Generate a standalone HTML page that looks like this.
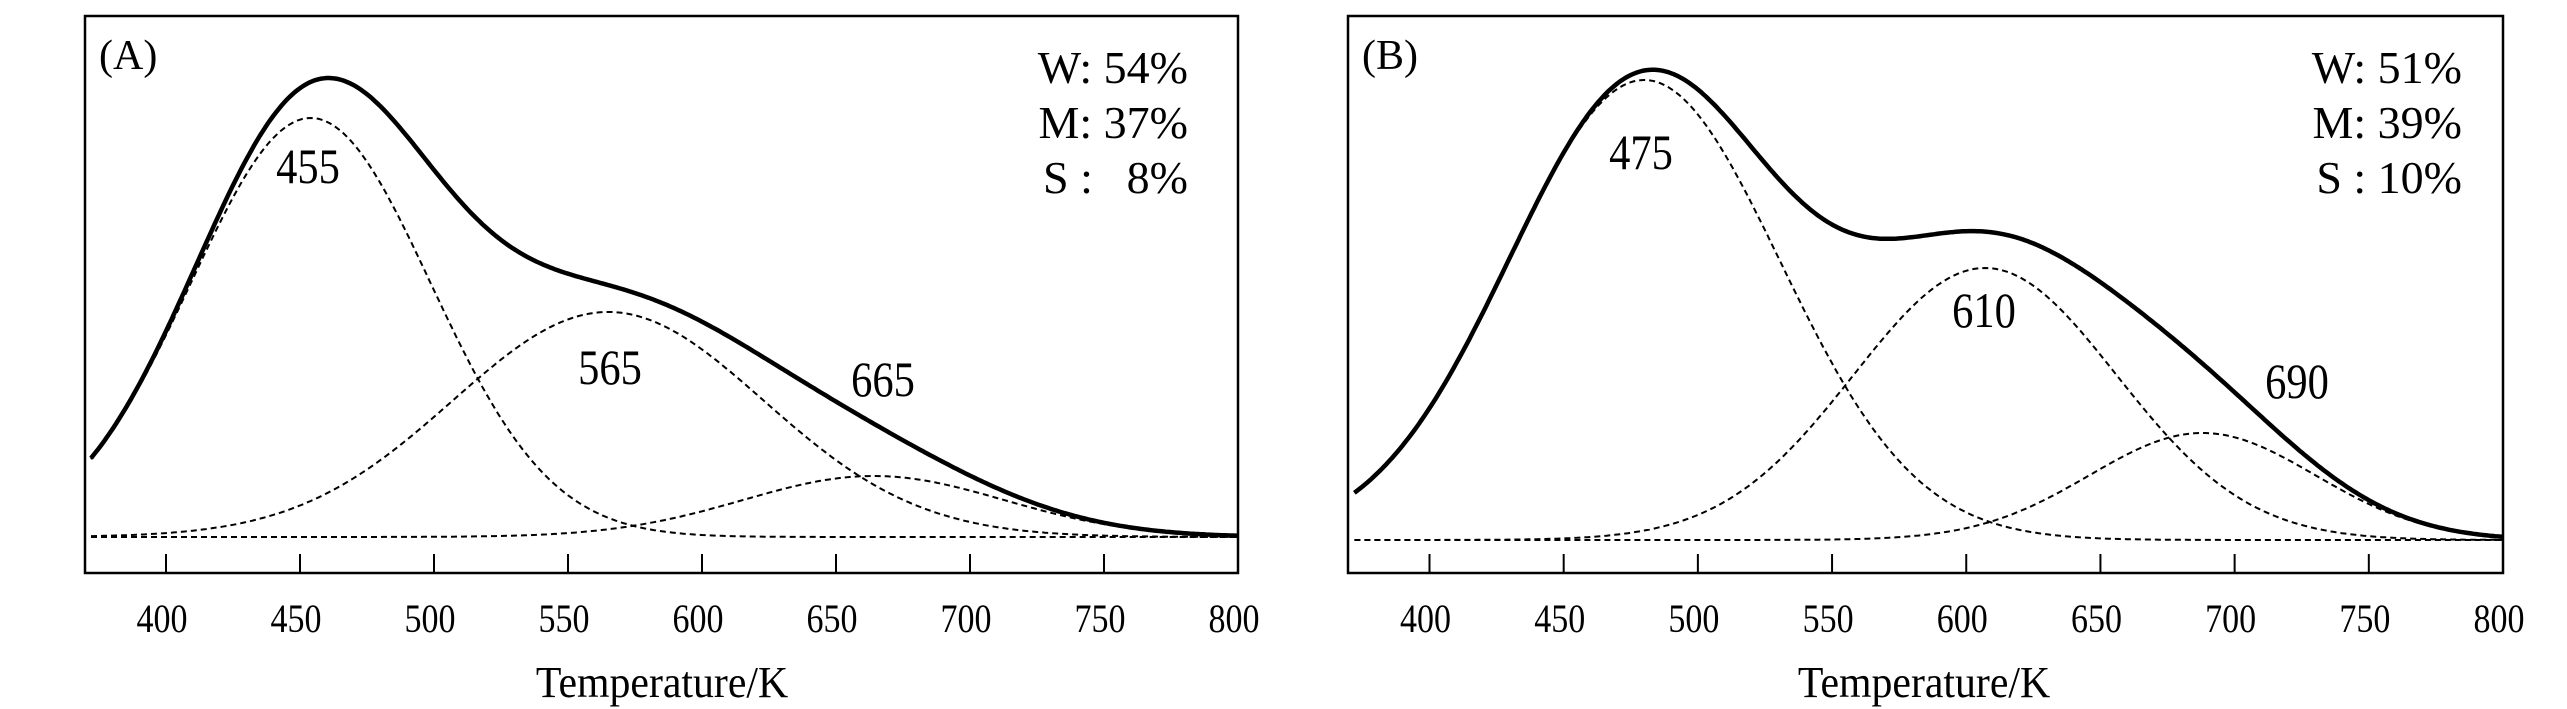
<!DOCTYPE html>
<html><head><meta charset="utf-8"><style>
html,body{margin:0;padding:0;background:#fff;}
svg{display:block;}
text{font-family:"Liberation Serif",serif;fill:#000;}
</style></head><body>
<svg id="s" width="2567" height="709" viewBox="0 0 2567 709" xmlns="http://www.w3.org/2000/svg">
<rect x="0" y="0" width="2567" height="709" fill="#fff"/>
<g id="A"></g><g id="B"></g>
</svg>
<script>
const NS="http://www.w3.org/2000/svg";
function el(p,t,a,txt){const e=document.createElementNS(NS,t);for(const k in a)e.setAttribute(k,a[k]);if(txt!==undefined)e.textContent=txt;p.appendChild(e);return e;}
function txt(g,x,y,s,size,anchor,sx){el(g,"text",{transform:`translate(${x},${y}) scale(${sx||0.85},1)`,"font-size":size,"text-anchor":anchor||"middle"},s);}
function panel(id,cfg){
  const g=document.getElementById(id);
  const L=cfg.L,R=cfg.R,T=16,B=573,x400=cfg.x400,k=(R-x400)/400;
  const X=t=>x400+(t-400)*k;
  const base=cfg.base;
  const comps=cfg.comps;
  const gauss=(c,t)=>c[1]*Math.exp(-((t-c[0])**2)/(2*c[2]*c[2]));
  comps.forEach(c=>{let d="";for(let t=372;t<=800;t+=1){d+=(t==372?"M":"L")+X(t).toFixed(1)+","+(base-gauss(c,t)).toFixed(1);}
    el(g,"path",{d:d,fill:"none",stroke:"#000","stroke-width":2,"stroke-dasharray":"6,4"});});
  let d="";for(let t=372;t<=800;t+=1){let y=0;comps.forEach(c=>y+=gauss(c,t));d+=(t==372?"M":"L")+X(t).toFixed(1)+","+(base-y).toFixed(1);}
  el(g,"path",{d:d,fill:"none",stroke:"#000","stroke-width":4.5,"stroke-linejoin":"round"});
  el(g,"rect",{x:L,y:T,width:R-L,height:B-T,fill:"none",stroke:"#000","stroke-width":2.5});
  for(let t=400;t<=800;t+=50){const x=X(t);el(g,"line",{x1:x,y1:B,x2:x,y2:B-19,stroke:"#000","stroke-width":2});
    txt(g,x-4,632,String(t),40,"middle",0.85);}
  txt(g,cfg.tc,697,"Temperature/K",44,"middle",0.95);
  txt(g,L+14,69,cfg.lab,42,"start",1);
  cfg.right.forEach((s,i)=>txt(g,cfg.rx,83+55*i,s,46,"end",1));
  if(cfg.sLab)txt(g,cfg.sLab,193,"S :","46","start",1);
  cfg.peaks.forEach(p=>txt(g,p[0],p[1],p[2],50,"middle",0.85));
}
panel("A",{L:85,R:1238,x400:166,base:537,tc:662,lab:"(A)",rx:1188,sLab:1043,
  right:["W: 54%","M: 37%","8%"],
  comps:[[454,419,44.7],[565,225,58],[664,61,48.7]],
  peaks:[[308,183,"455"],[610,384,"565"],[883,396,"665"]]});
panel("B",{L:1348,R:2503,x400:1429.5,base:540,tc:1924,lab:"(B)",rx:2462,
  right:["W: 51%","M: 39%","S : 10%"],
  comps:[[480,460,50.6],[607,272,49],[688,107,42]],
  peaks:[[1641,169,"475"],[1984,327,"610"],[2297,398,"690"]]});
</script>
</body></html>
